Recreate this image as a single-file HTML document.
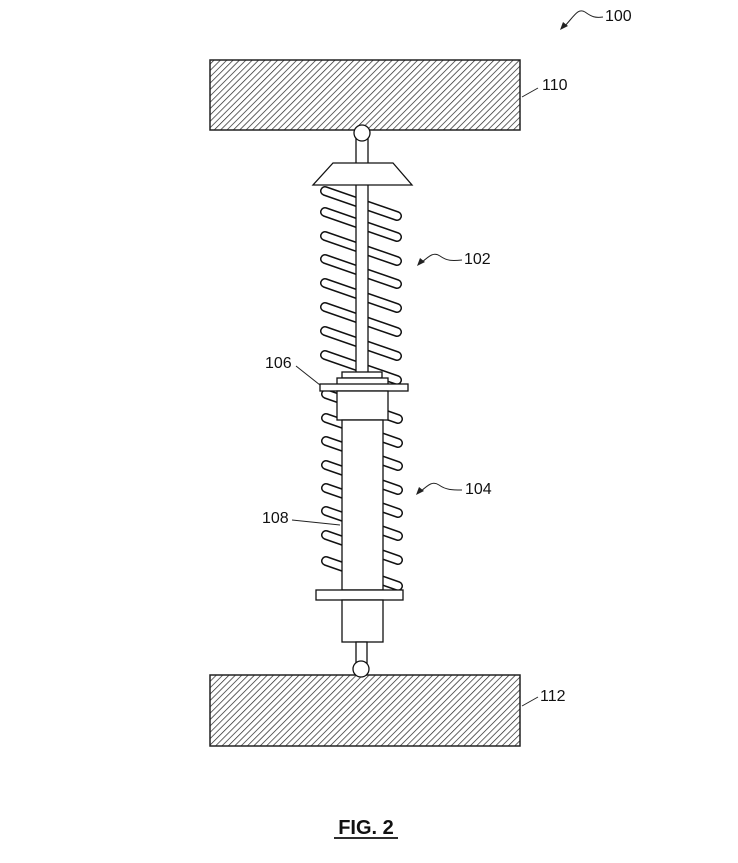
<!DOCTYPE html>
<html><head><style>
html,body{margin:0;padding:0;background:#fff;}
svg{display:block;}
text{font-family:"Liberation Sans",Arial,sans-serif;font-size:16px;fill:#111;}
</style></head><body>
<svg width="738" height="863" viewBox="0 0 738 863" xmlns="http://www.w3.org/2000/svg">
<defs>
<pattern id="h" patternUnits="userSpaceOnUse" width="4.5" height="4.5" patternTransform="rotate(45)">
<line x1="0" y1="0" x2="0" y2="4.5" stroke="#222" stroke-width="1.4"/>
</pattern>
<g id="coil">
<line x1="0" y1="0" x2="72" y2="25" stroke="#111" stroke-width="10" stroke-linecap="round"/>
<line x1="0" y1="0" x2="72" y2="25" stroke="#fff" stroke-width="7" stroke-linecap="round"/>
</g>
</defs>
<rect x="210" y="60" width="310" height="70" fill="url(#h)" stroke="#222" stroke-width="1.5"/>
<rect x="210" y="675" width="310" height="71" fill="url(#h)" stroke="#222" stroke-width="1.5"/>
<use href="#coil" x="325" y="191"/>
<use href="#coil" x="325" y="212"/>
<use href="#coil" x="325" y="236"/>
<use href="#coil" x="325" y="259"/>
<use href="#coil" x="325" y="283"/>
<use href="#coil" x="325" y="307"/>
<use href="#coil" x="325" y="331"/>
<use href="#coil" x="325" y="355"/>
<use href="#coil" x="326" y="394"/>
<use href="#coil" x="326" y="418"/>
<use href="#coil" x="326" y="441"/>
<use href="#coil" x="326" y="465"/>
<use href="#coil" x="326" y="488"/>
<use href="#coil" x="326" y="511"/>
<use href="#coil" x="326" y="535"/>
<use href="#coil" x="326" y="561"/>
<g fill="#fff" stroke="#111" stroke-width="1.3">
<rect x="356" y="133" width="12" height="240"/>
<circle cx="362" cy="133" r="8"/>
<polygon points="333,163 393,163 412,185 313,185"/>
<rect x="342" y="372" width="40" height="6"/>
<rect x="337" y="378" width="51" height="7"/>
<rect x="320" y="384" width="88" height="7"/>
<rect x="337" y="391" width="51" height="29"/>
<rect x="342" y="420" width="41" height="170"/>
<rect x="316" y="590" width="87" height="10"/>
<rect x="342" y="600" width="41" height="42"/>
<rect x="356" y="642" width="11" height="30"/>
<circle cx="361" cy="669" r="8"/>
</g>
<g fill="none" stroke="#222" stroke-width="1">
<path d="M564,27 C575,15 578,8 585,12 C592,17 595,18 603,17"/>
<path d="M421,263 C430,255 434,252 440,256 C447,261 452,261 462,260"/>
<path d="M420,492 C429,484 433,481 439,485 C446,490 452,490 462,490"/>
<line x1="522" y1="97" x2="538" y2="88"/>
<line x1="296" y1="366" x2="320" y2="385"/>
<line x1="292" y1="520" x2="340" y2="525"/>
<line x1="522" y1="706" x2="538" y2="697"/>
</g>
<g fill="#222">
<polygon points="560,30 563,22 568,26"/>
<polygon points="417,266 420,258 425,262"/>
<polygon points="416,495 419,487 424,491"/>
</g>
<text x="605" y="21">100</text>
<text x="542" y="90">110</text>
<text x="464" y="264">102</text>
<text x="265" y="368">106</text>
<text x="465" y="494">104</text>
<text x="262" y="523">108</text>
<text x="540" y="701">112</text>
<text x="366" y="834" text-anchor="middle" style="font-size:20px;font-weight:bold">FIG. 2</text>
<line x1="334" y1="838" x2="398" y2="838" stroke="#111" stroke-width="1.8"/>
</svg>
</body></html>
